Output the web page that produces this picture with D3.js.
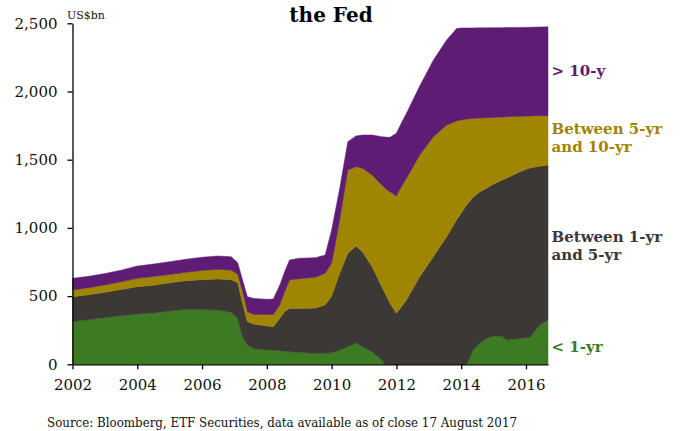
<!DOCTYPE html>
<html><head><meta charset="utf-8">
<script src="https://cdn.jsdelivr.net/npm/d3@7"></script>
<style>body{margin:0;background:#fff}svg{display:block}</style>
</head><body>
<svg id="c" width="682" height="431"></svg>
<script>
// Decimal-year sample dates
const dates = [2002.0,2002.5,2003.0,2003.5,2004.0,2004.5,2005.0,2005.5,2006.0,2006.5,2006.9,2007.1,2007.25,2007.4,2007.6,2008.0,2008.2,2008.4,2008.55,2008.7,2009.0,2009.5,2009.8,2010.0,2010.25,2010.5,2010.75,2010.95,2011.25,2011.55,2011.65,2011.8,2012.0,2012.15,2012.31,2012.72,2013.14,2013.55,2013.86,2014.0,2014.17,2014.37,2014.58,2014.78,2014.99,2015.25,2015.4,2015.81,2016.12,2016.43,2016.68];
// US$bn held by maturity bucket
const lt1y   = [312,328,342,356,369,376,390,403,402,398,380,335,200,141,115,105,103,100,96,92,88,80,82,85,105,129,157,129,92,32,0,0,0,0,0,0,0,0,0,0,0,105,154,190,207,207,178,190,198,288,325];
const y1to5  = [184,182,186,192,200,204,207,210,218,227,240,263,247,171,180,176,172,237,290,318,322,332,353,415,562,685,710,696,624,537,520,447,374,420,471,642,789,935,1060,1107,1170,1120,1111,1100,1113,1143,1186,1222,1242,1164,1136];
const y5to10 = [49,52,54,57,61,63,61,61,68,71,70,64,93,74,70,84,90,98,146,208,218,226,232,240,391,610,582,612,672,745,770,818,860,882,892,892,879,819,724,684,628,577,540,518,490,463,451,406,380,370,362];
const gt10y  = [85,83,83,85,90,92,94,96,97,98,98,83,78,110,117,112,113,146,147,147,149,144,134,245,232,208,225,244,293,355,376,399,460,466,477,506,562,623,678,675,668,664,662,659,658,655,654,652,651,651,651];
const seriesKeys = ["lt1y","y1to5","y5to10","gt10y"];
const labels = [["< 1-yr"],["Between 1-yr","and 5-yr"],["Between 5-yr","and 10-yr"],["> 10-y"]];
const colors = ["#3d7b23","#3c3836","#a08500","#5f1c74"];
const yTicks = [0,500,1000,1500,2000,2500];
const xTicks = [2002,2004,2006,2008,2010,2012,2014,2016];
const title = "the Fed";
const unit = "US$bn";
const source = "Source: Bloomberg, ETF Securities, data available as of close 17 August 2017";

const rows = dates.map((t,i)=>({t, lt1y:lt1y[i], y1to5:y1to5[i], y5to10:y5to10[i], gt10y:gt10y[i]}));
const svg = d3.select("#c");
const x = d3.scaleLinear().domain([2002, 2016.68]).range([72.5, 548]);
const y = d3.scaleLinear().domain([0, 2500]).range([364.3, 23.3]);
const stack = d3.stack().keys(seriesKeys)(rows);
const area = d3.area().x(d=>x(d.data.t)).y0(d=>y(d[0])).y1(d=>y(d[1]));
svg.append("g").selectAll("path").data(stack).join("path")
  .attr("d", area).attr("fill", (d,i)=>colors[i]).attr("stroke", (d,i)=>colors[i]).attr("stroke-width",0.5);

const serif = "'DejaVu Serif', serif";
const xa = svg.append("g").attr("transform","translate(0,364.3)")
  .call(d3.axisBottom(x).tickValues(xTicks).tickFormat(d3.format("d")).tickSize(5).tickSizeOuter(0).tickPadding(10));
const ya = svg.append("g").attr("transform","translate(72.5,0)")
  .call(d3.axisLeft(y).tickValues(yTicks).tickFormat(d3.format(",")).tickSize(5).tickSizeOuter(0).tickPadding(10));
[xa,ya].forEach(a=>{
  a.selectAll("path,line").attr("stroke","#000").attr("stroke-width",1.3);
  a.selectAll("text").attr("font-family",serif).attr("font-size",15).attr("fill","#111");
});

svg.append("text").attr("x",331).attr("y",21.7).attr("text-anchor","middle")
  .attr("font-family",serif).attr("font-weight","bold").attr("font-size",20).attr("fill","#000").text(title);
svg.append("text").attr("x",67).attr("y",19).attr("font-family",serif).attr("font-size",11).attr("fill","#111").text(unit);
svg.append("text").attr("x",47).attr("y",426.5).attr("font-family",serif).attr("font-size",12).attr("fill","#111")
  .attr("textLength",470).attr("lengthAdjust","spacingAndGlyphs").text(source);

const labelY = [351.5, 242, 134, 75.5];
labels.forEach((ls,i)=>{
  const t = svg.append("text").attr("x",551.5).attr("y",labelY[i]).attr("font-family",serif)
    .attr("font-weight","bold").attr("font-size",15).attr("fill",colors[i]);
  ls.forEach((l,j)=>t.append("tspan").attr("x",551.5).attr("dy", j?18.3:0).text(l));
});
</script>
</body></html>
